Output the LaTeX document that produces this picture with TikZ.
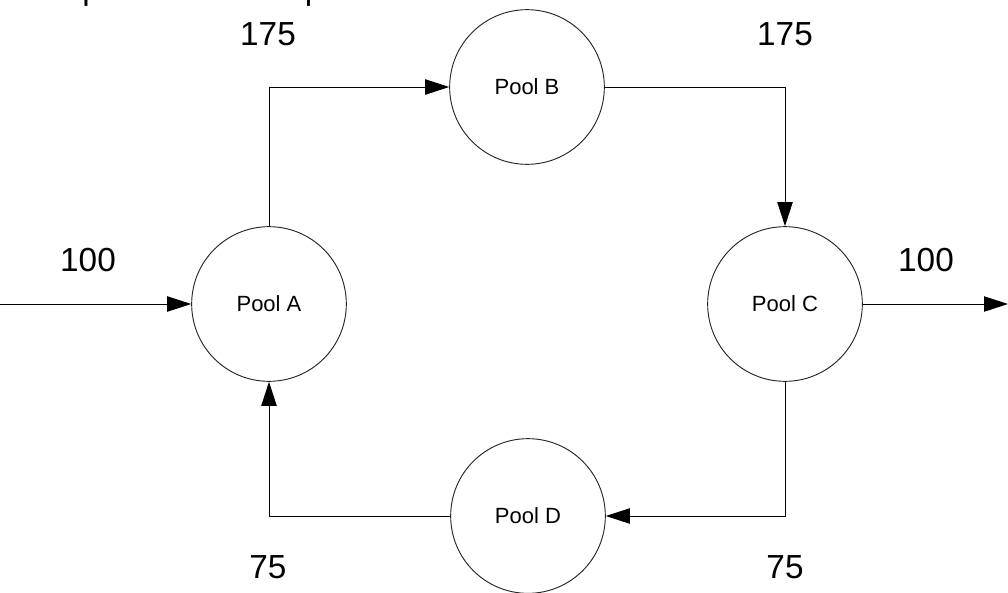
\documentclass[tikz,border=0pt]{standalone}
\usepackage{fontspec}
\setmainfont{Liberation Sans}
\usetikzlibrary{arrows.meta}
\begin{document}
\begin{tikzpicture}[x=0.75pt,y=-0.75pt,
  pool/.style={draw=black!85,line width=0.7pt,circle,minimum size=116pt,inner sep=0pt,font=\fontsize{16.5}{18}\selectfont},
  flow/.style={draw=black,line width=0.7pt,-{Triangle[length=18pt,width=11.5pt]}},
  qty/.style={font=\fontsize{25}{28}\selectfont}]
\useasboundingbox (0,0) rectangle (1008,593);
\fill[white] (0,0) rectangle (1008,593);
\begin{scope}
\clip (0,0) rectangle (1008,593);
\node[qty,anchor=base west,inner sep=0pt] (title) at (-3,-1) {Example of Pool Loop};
\end{scope}
\node[pool] (A) at (269,304) {Pool A};
\node[pool] (B) at (527,87) {Pool B};
\node[pool] (C) at (785,304) {Pool C};
\node[pool] (D) at (528,516) {Pool D};
\coordinate (in) at (0,304);
\coordinate (out) at (1008,304);
\draw[flow] (in) -- (A.west);
\draw[flow] (A.north) |- (B.west);
\draw[flow] (B.east) -| (C.north);
\draw[flow] (C.east) -- (out);
\draw[flow] (C.south) |- (D.east);
\draw[flow] (D.west) -| (A.south);
\node[qty] (l1) at (268,34) {175};
\node[qty] (l2) at (785,34) {175};
\node[qty] (l3) at (88,260) {100};
\node[qty] (l4) at (926,260) {100};
\node[qty] (l5) at (268,567) {75};
\node[qty] (l6) at (785,567) {75};
\end{tikzpicture}
\end{document}
